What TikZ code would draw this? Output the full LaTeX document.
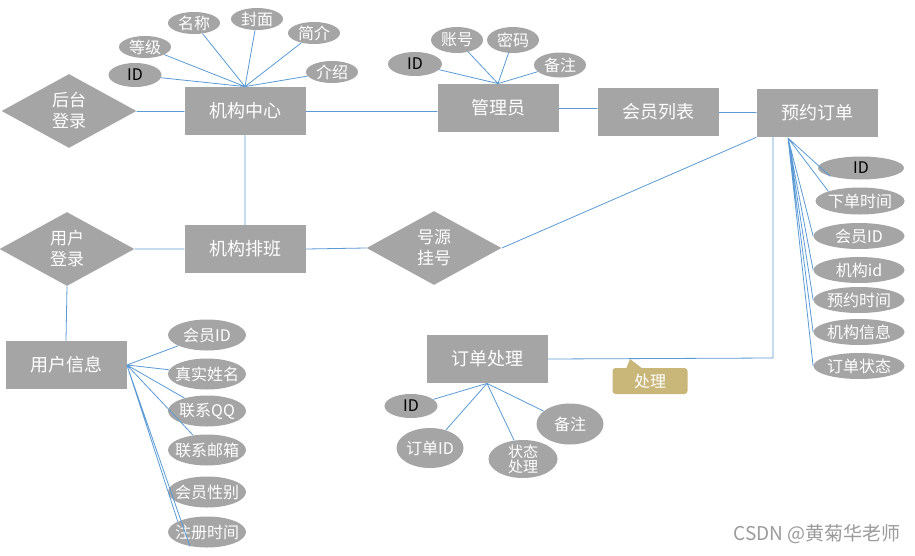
\documentclass[tikz,border=0pt]{standalone}
\usepackage{fontspec}
\setmainfont{Noto Sans CJK SC}
\usetikzlibrary{shapes.geometric}
\definecolor{huise}{HTML}{A5A5A5}
\definecolor{lanxian}{HTML}{5B9BD5}
\definecolor{tuhuang}{HTML}{C9B77A}
\definecolor{shuiyin}{HTML}{9B9B9B}
\begin{document}
\begin{tikzpicture}[x=1pt,y=-1pt,line width=0.8pt,line join=round,line cap=round,
	shiti/.style={rectangle,fill=huise,text=white,minimum width=121pt,minimum height=48pt,inner sep=0pt,font=\fontsize{18}{21}\selectfont},
	guanxi/.style={diamond,fill=huise,text=white,minimum width=135pt,minimum height=74pt,inner sep=0pt,align=center,font=\fontsize{17}{21}\selectfont},
	shuxing/.style={ellipse,fill=huise,text=white,inner xsep=-12pt,inner ysep=-5pt,font=\fontsize{16}{17}\selectfont},
	lian/.style={draw=lanxian}]
					\fill[white] (0,0) rectangle (915,555);
					\useasboundingbox (0,0) rectangle (915,555);
					\node[guanxi] (htdl) at (69,111) {后台\\登录};
					\node[shiti] (jgzx) at (245,111) {机构中心};
					\node[shiti] (gly) at (498,108) {管理员};
					\node[shiti] (hylb) at (658,112) {会员列表};
					\node[shiti] (yydd) at (817,113) {预约订单};
					\node[guanxi] (yhdl) at (67,249) {用户\\登录};
					\node[shiti] (jgpb) at (245,249) {机构排班};
					\node[guanxi] (hygh) at (434,248) {号源\\挂号};
					\node[shiti] (yhxx) at (66,365) {用户信息};
					\node[shiti] (ddcl) at (487,359) {订单处理};
					%
					\node[shuxing,minimum width=53pt,minimum height=24pt,text=black] (jid) at (135,75) {ID};
					\node[shuxing,minimum width=52pt,minimum height=22pt] (jdj) at (145,47) {等级};
					\node[shuxing,minimum width=52pt,minimum height=22pt] (jmc) at (194,23) {名称};
					\node[shuxing,minimum width=52pt,minimum height=22pt] (jfm) at (257,19) {封面};
					\node[shuxing,minimum width=52pt,minimum height=22pt] (jjj) at (314,33) {简介};
					\node[shuxing,minimum width=52pt,minimum height=22pt] (jjs) at (332,72) {介绍};
					%
					\node[shuxing,minimum width=54pt,minimum height=24pt,text=black] (gid) at (415,64) {ID};
					\node[shuxing,minimum width=52pt,minimum height=26pt] (gzh) at (457,40) {账号};
					\node[shuxing,minimum width=52pt,minimum height=26pt] (gmm) at (513,40) {密码};
					\node[shuxing,minimum width=52pt,minimum height=25pt] (gbz) at (560,65) {备注};
					%
					\node[shuxing,minimum width=86pt,minimum height=23pt,text=black] (yid) at (861,168) {ID};
					\node[shuxing,minimum width=89pt,minimum height=27pt] (yxd) at (860,201) {下单时间};
					\node[shuxing,minimum width=91pt,minimum height=26pt] (yhy) at (859,236) {会员ID};
					\node[shuxing,minimum width=91pt,minimum height=26pt] (yjg) at (859,270) {机构id};
					\node[shuxing,minimum width=91pt,minimum height=26pt] (yyy) at (859,300) {预约时间};
					\node[shuxing,minimum width=91pt,minimum height=26pt] (yxx) at (859,332) {机构信息};
					\node[shuxing,minimum width=91pt,minimum height=26pt] (yzt) at (859,366) {订单状态};
					%
					\node[shuxing,minimum width=78pt,minimum height=31pt] (uhy) at (207,335) {会员ID};
					\node[shuxing,minimum width=78pt,minimum height=31pt] (uxm) at (207,374) {真实姓名};
					\node[shuxing,minimum width=78pt,minimum height=31pt] (uqq) at (207,411) {联系QQ};
					\node[shuxing,minimum width=78pt,minimum height=31pt] (uyx) at (207,450) {联系邮箱};
					\node[shuxing,minimum width=78pt,minimum height=31pt] (uxb) at (207,492) {会员性别};
					\node[shuxing,minimum width=78pt,minimum height=31pt] (usj) at (207,532) {注册时间};
					%
					\node[shuxing,minimum width=53pt,minimum height=24pt,text=black] (did) at (411,406) {ID};
					\node[shuxing,minimum width=67pt,minimum height=40pt] (ddd) at (430,448) {订单ID};
					\node[shuxing,minimum width=69pt,minimum height=38pt,align=center,font=\fontsize{15}{15}\selectfont,inner ysep=-10pt] (dzt) at (523,459) {状态\\处理};
					\node[shuxing,minimum width=67pt,minimum height=41pt] (dbz) at (570,424) {备注};
					%
					\fill[tuhuang] (626,369) -- (630,359) -- (643,369) -- cycle;
					\node[fill=tuhuang,rounded corners=3pt,text=white,minimum width=75pt,minimum height=26pt,inner sep=0pt,font=\fontsize{16}{17}\selectfont] (cl) at (650,381) {处理};
					\node[text=shuiyin,anchor=east,inner sep=0pt,font=\fontsize{19}{20}\selectfont] (sy) at (901,534) {CSDN @黄菊华老师};
					%
					\coordinate (zj) at (773,358);
					\coordinate (yyddb) at (788,138);
					\draw[lian] (htdl.east)--(jgzx.west) (jgzx.east)--(jgzx.east -| gly.west) (gly.east)--(gly.east -| hylb.west) (hylb.east)--(hylb.east -| yydd.west);
					\draw[lian] (jgzx.south)--(jgpb.north) (yhdl.east)--(jgpb.west) (jgpb.east)--(hygh.west) (hygh.east)--(yydd.south west) (yhdl.south)--(yhxx.north);
					\draw[lian] (ddcl.east)--(zj)--(zj |- yydd.south);
					\draw[lian] (jid)--(jgzx.north) (jdj)--(jgzx.north) (jmc)--(jgzx.north) (jfm)--(jgzx.north) (jjj)--(jgzx.north) (jjs)--(jgzx.north);
					\draw[lian] (gid)--(gly.north) (gzh)--(gly.north) (gmm)--(gly.north) (gbz)--(gly.north);
					\draw[lian] (yid.south west)--(yyddb) (yxd.north west)--(yyddb) (yhy.west)--(yyddb) (yjg.west)--(yyddb) (yyy.west)--(yyddb) (yxx.west)--(yyddb) (yzt.west)--(yyddb);
					\draw[lian] (uhy)--(yhxx.east) (uxm)--(yhxx.east) (uqq)--(yhxx.east) (uyx)--(yhxx.east) (usj.160)--(yhxx.east) (usj.220)--(yhxx.east);
					\draw[lian] (did)--(ddcl.south) (ddd)--(ddcl.south) (dzt)--(ddcl.south) (dbz)--(ddcl.south);
\end{tikzpicture}
\end{document}
